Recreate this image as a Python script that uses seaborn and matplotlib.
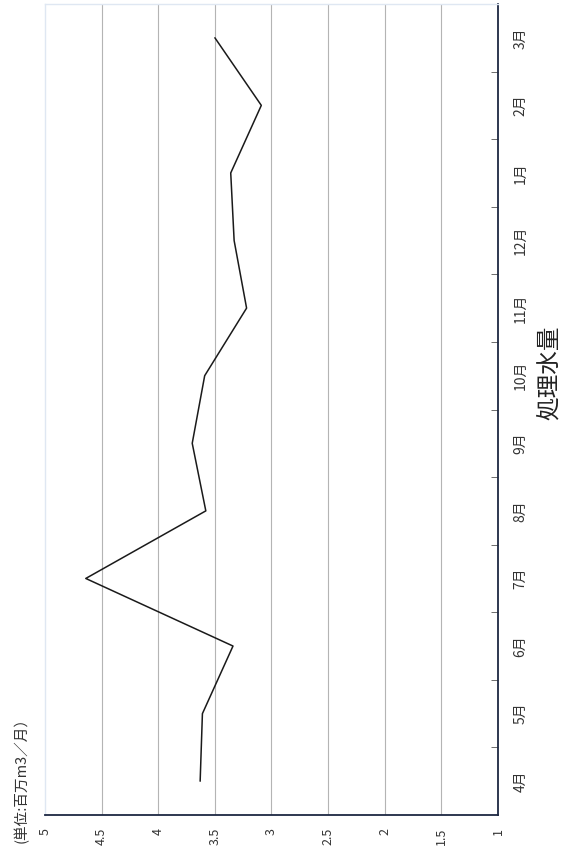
import numpy as np
import pandas as pd
import matplotlib
matplotlib.use("Agg")
import matplotlib.pyplot as plt
import seaborn as sns
from matplotlib.ticker import FixedLocator

# ── data ──────────────────────────────────────────────
months = ["4月", "5月", "6月", "7月", "8月", "9月",
          "10月", "11月", "12月", "1月", "2月", "3月"]
volume = [3.63, 3.61, 3.34, 4.64, 3.58, 3.70,
          3.59, 3.22, 3.33, 3.36, 3.09, 3.50]
value_ticks = [5, 4.5, 4, 3.5, 3, 2.5, 2, 1.5, 1]
value_labels = ["5", "4.5", "4", "3.5", "3", "2.5", "2", "1.5", "1"]
title = "処理水量"
unit_label = "(単位:百万m3／月）"

sns.set_style("white")
plt.rcParams["font.family"] = ["Noto Sans CJK JP", "DejaVu Sans"]

df = pd.DataFrame({"month": months, "pos": np.arange(len(months)), "volume": volume})

fig = plt.figure(figsize=(5.79, 8.55), dpi=100)
ax = fig.add_axes([45 / 579, 40 / 855, 453 / 579, 811 / 855])

# chart is drawn turned a quarter: values run right->left, months bottom->top
sns.lineplot(data=df, x="volume", y="pos", orient="y", sort=False,
             color="#1a1a1a", linewidth=1.1, ax=ax)

ax.set_xlim(5, 1)
ax.set_ylim(-0.5, len(months) - 0.5)

# value axis (along the bottom)
ax.set_xticks(value_ticks)
ax.set_xticklabels(value_labels, rotation=90, fontsize=9, color="#333333")
ax.tick_params(axis="x", length=0, pad=9)
for v in value_ticks[1:-1]:
    ax.axvline(v, color="#b4b4b4", linewidth=0.8, zorder=0)

# month axis (on the right)
ax.yaxis.tick_right()
ax.set_yticks(df["pos"])
ax.set_yticklabels(months, rotation=90, fontsize=10, color="#333333", va="center")
ax.yaxis.set_minor_locator(FixedLocator(np.arange(0.5, len(months) - 1, 1)))
ax.tick_params(axis="y", which="major", length=0, pad=11)
ax.tick_params(axis="y", which="minor", direction="in", length=5,
               color="#555555", right=True, left=False)

ax.set_xlabel("")
ax.set_ylabel("")

for side in ["right", "bottom"]:
    ax.spines[side].set_color("#1c2742")
    ax.spines[side].set_linewidth(1.3)
for side in ["left", "top"]:
    ax.spines[side].set_color("#dfe7f2")
    ax.spines[side].set_linewidth(1.0)

fig.text(549 / 579, 1 - 373 / 855, title, rotation=90, ha="center", va="center",
         fontsize=17, color="#222222")
fig.text(21 / 579, 1 - 843 / 855, unit_label, rotation=90, ha="center", va="bottom",
         fontsize=10.5, color="#333333")

plt.savefig("out.png", dpi=100)
plt.close()
